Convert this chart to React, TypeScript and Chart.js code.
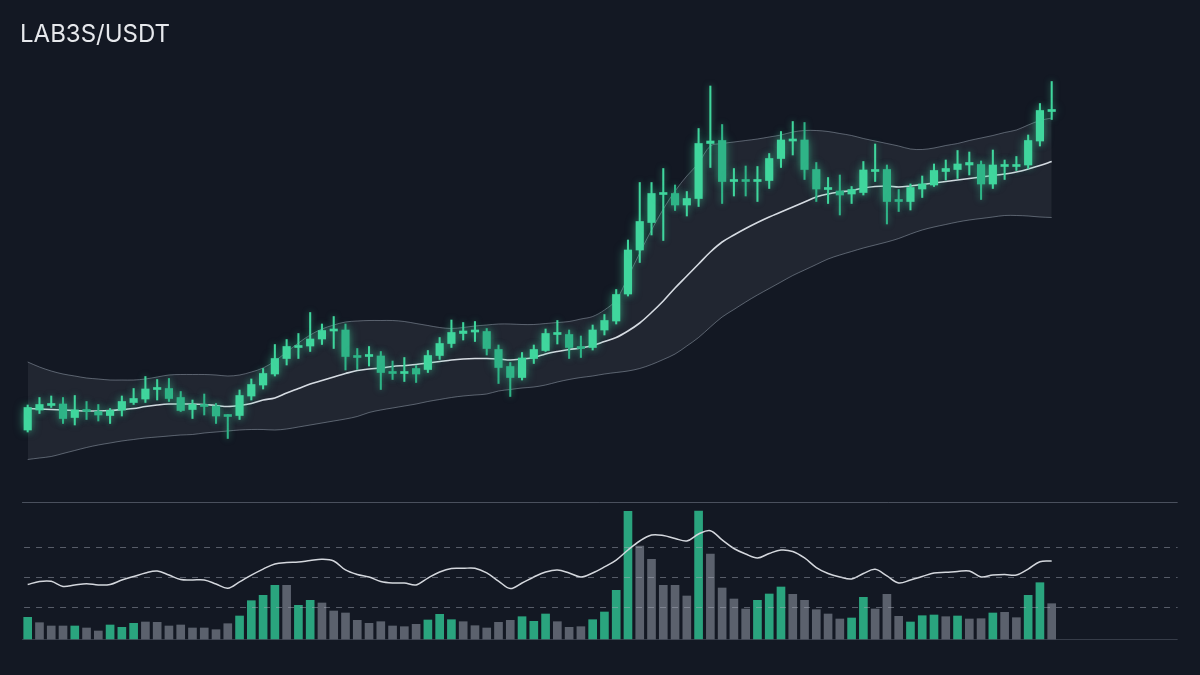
import React, { useEffect, useRef } from "react";
import { Chart, registerables } from "chart.js";

Chart.register(...registerables);

const PAIR = "LAB3S/USDT";

// Candles (price)
const openPrices = [
  1.140, 1.180, 1.189, 1.192, 1.165, 1.181, 1.177, 1.169, 1.180, 1.195,
  1.202, 1.221, 1.223, 1.205, 1.181, 1.191, 1.188, 1.170, 1.169, 1.208,
  1.230, 1.252, 1.283, 1.305, 1.308, 1.322, 1.338, 1.340, 1.288, 1.287,
  1.288, 1.257, 1.253, 1.263, 1.261, 1.289, 1.313, 1.333, 1.336, 1.337,
  1.301, 1.267, 1.245, 1.283, 1.299, 1.331, 1.331, 1.307, 1.305, 1.340,
  1.358, 1.412, 1.500, 1.555, 1.611, 1.613, 1.590, 1.603, 1.713, 1.719,
  1.637, 1.641, 1.637, 1.639, 1.683, 1.718, 1.720, 1.661, 1.621, 1.618,
  1.612, 1.615, 1.657, 1.661, 1.601, 1.597, 1.622, 1.630, 1.657, 1.661,
  1.670, 1.671, 1.632, 1.667, 1.667, 1.670, 1.718, 1.777,
];
const closePrices = [
  1.185, 1.191, 1.193, 1.163, 1.180, 1.177, 1.170, 1.179, 1.197, 1.203,
  1.222, 1.225, 1.203, 1.179, 1.191, 1.187, 1.168, 1.167, 1.209, 1.231,
  1.253, 1.283, 1.307, 1.309, 1.322, 1.339, 1.341, 1.287, 1.285, 1.289,
  1.255, 1.253, 1.257, 1.252, 1.289, 1.313, 1.335, 1.338, 1.339, 1.303,
  1.265, 1.245, 1.284, 1.301, 1.333, 1.335, 1.305, 1.303, 1.340, 1.359,
  1.411, 1.500, 1.557, 1.613, 1.613, 1.590, 1.603, 1.713, 1.718, 1.637,
  1.640, 1.637, 1.641, 1.683, 1.720, 1.722, 1.661, 1.622, 1.625, 1.610,
  1.621, 1.660, 1.661, 1.597, 1.597, 1.625, 1.632, 1.659, 1.663, 1.672,
  1.675, 1.632, 1.670, 1.670, 1.671, 1.719, 1.779, 1.781,
];
const highPrices = [
  1.190, 1.205, 1.208, 1.205, 1.209, 1.197, 1.191, 1.183, 1.208, 1.223,
  1.247, 1.241, 1.243, 1.217, 1.200, 1.212, 1.193, 1.171, 1.220, 1.242,
  1.263, 1.311, 1.321, 1.333, 1.375, 1.352, 1.367, 1.352, 1.303, 1.307,
  1.297, 1.278, 1.285, 1.269, 1.299, 1.325, 1.360, 1.355, 1.357, 1.343,
  1.310, 1.275, 1.295, 1.310, 1.342, 1.359, 1.340, 1.328, 1.350, 1.371,
  1.421, 1.520, 1.635, 1.635, 1.663, 1.630, 1.617, 1.743, 1.828, 1.751,
  1.663, 1.668, 1.667, 1.693, 1.737, 1.757, 1.755, 1.675, 1.645, 1.650,
  1.627, 1.677, 1.712, 1.670, 1.621, 1.632, 1.648, 1.672, 1.680, 1.699,
  1.696, 1.678, 1.700, 1.680, 1.687, 1.730, 1.793, 1.837,
];
const lowPrices = [
  1.136, 1.173, 1.185, 1.153, 1.150, 1.161, 1.158, 1.153, 1.168, 1.191,
  1.195, 1.200, 1.197, 1.177, 1.163, 1.170, 1.153, 1.123, 1.161, 1.200,
  1.222, 1.248, 1.270, 1.283, 1.297, 1.311, 1.303, 1.260, 1.261, 1.268,
  1.221, 1.241, 1.237, 1.235, 1.255, 1.281, 1.305, 1.320, 1.317, 1.290,
  1.233, 1.207, 1.240, 1.273, 1.297, 1.312, 1.283, 1.285, 1.300, 1.330,
  1.352, 1.408, 1.475, 1.530, 1.519, 1.579, 1.568, 1.587, 1.665, 1.593,
  1.608, 1.608, 1.597, 1.623, 1.665, 1.690, 1.641, 1.597, 1.593, 1.570,
  1.593, 1.610, 1.637, 1.552, 1.577, 1.580, 1.605, 1.627, 1.640, 1.643,
  1.650, 1.601, 1.623, 1.641, 1.659, 1.663, 1.708, 1.761,
];

// Bands
const upperBand = [
  1.276, 1.266, 1.258, 1.252, 1.248, 1.244, 1.242, 1.240, 1.240, 1.240,
  1.242, 1.246, 1.250, 1.251, 1.251, 1.251, 1.250, 1.248, 1.250, 1.256,
  1.264, 1.278, 1.296, 1.314, 1.330, 1.342, 1.350, 1.356, 1.358, 1.359,
  1.359, 1.359, 1.357, 1.353, 1.349, 1.345, 1.343, 1.345, 1.348, 1.350,
  1.352, 1.352, 1.351, 1.351, 1.353, 1.355, 1.357, 1.362, 1.367, 1.380,
  1.400, 1.446, 1.494, 1.540, 1.582, 1.618, 1.648, 1.674, 1.708, 1.713,
  1.716, 1.719, 1.722, 1.726, 1.730, 1.736, 1.739, 1.739, 1.737, 1.733,
  1.729, 1.723, 1.718, 1.713, 1.708, 1.702, 1.701, 1.704, 1.709, 1.713,
  1.719, 1.724, 1.729, 1.735, 1.740, 1.750, 1.759, 1.764,
];
const middleBand = [
  1.183, 1.182, 1.181, 1.180, 1.179, 1.178, 1.178, 1.179, 1.181, 1.183,
  1.187, 1.190, 1.192, 1.192, 1.192, 1.191, 1.189, 1.187, 1.189, 1.193,
  1.200, 1.204, 1.214, 1.223, 1.232, 1.239, 1.246, 1.253, 1.259, 1.262,
  1.264, 1.267, 1.269, 1.271, 1.274, 1.277, 1.280, 1.282, 1.283, 1.283,
  1.282, 1.280, 1.282, 1.285, 1.292, 1.297, 1.301, 1.304, 1.309, 1.317,
  1.325, 1.338, 1.354, 1.375, 1.398, 1.424, 1.448, 1.472, 1.496, 1.516,
  1.530, 1.543, 1.555, 1.566, 1.576, 1.586, 1.596, 1.606, 1.612, 1.616,
  1.619, 1.624, 1.627, 1.628, 1.626, 1.628, 1.631, 1.634, 1.637, 1.640,
  1.643, 1.646, 1.649, 1.652, 1.656, 1.662, 1.669, 1.677,
];
const lowerBand = [
  1.081, 1.084, 1.087, 1.093, 1.099, 1.105, 1.110, 1.114, 1.118, 1.121,
  1.124, 1.126, 1.128, 1.130, 1.131, 1.134, 1.136, 1.138, 1.140, 1.141,
  1.141, 1.140, 1.142, 1.146, 1.150, 1.154, 1.158, 1.162, 1.167, 1.175,
  1.180, 1.184, 1.188, 1.192, 1.197, 1.201, 1.205, 1.208, 1.210, 1.212,
  1.218, 1.221, 1.224, 1.226, 1.230, 1.236, 1.241, 1.245, 1.248, 1.252,
  1.255, 1.258, 1.263, 1.271, 1.281, 1.292, 1.308, 1.325, 1.346, 1.366,
  1.381, 1.396, 1.410, 1.423, 1.436, 1.449, 1.460, 1.471, 1.482, 1.490,
  1.497, 1.504, 1.510, 1.516, 1.523, 1.532, 1.540, 1.546, 1.551, 1.556,
  1.560, 1.563, 1.566, 1.569, 1.569, 1.568, 1.566, 1.565,
];

// Volume
const volumes = [
  217, 163, 130, 130, 130, 110, 80, 140, 117, 157,
  170, 167, 130, 140, 110, 110, 93, 153, 230, 383,
  437, 537, 537, 337, 387, 360, 280, 260, 187, 157,
  173, 130, 123, 147, 190, 247, 193, 173, 133, 110,
  167, 187, 223, 177, 250, 173, 117, 123, 193, 270,
  487, 1277, 930, 797, 537, 537, 430, 1280, 850, 510,
  400, 300, 387, 450, 520, 447, 387, 293, 250, 200,
  210, 417, 300, 447, 227, 170, 233, 240, 223, 230,
  200, 203, 260, 267, 213, 437, 563, 353,
];
const volumeUp = [
  1, 0, 0, 0, 1, 0, 0, 1, 1, 1,
  0, 0, 0, 0, 0, 0, 0, 0, 1, 1,
  1, 1, 0, 1, 1, 0, 0, 0, 0, 0,
  0, 0, 0, 0, 1, 1, 1, 0, 0, 0,
  0, 0, 1, 1, 1, 0, 0, 0, 1, 1,
  1, 1, 0, 0, 0, 0, 0, 1, 0, 0,
  0, 0, 1, 1, 1, 0, 0, 0, 0, 0,
  1, 1, 0, 0, 0, 1, 1, 1, 0, 1,
  0, 0, 1, 0, 0, 1, 1, 0,
];

// Oscillator
const rsiValues = [
  44.8, 46.8, 46.9, 43.5, 44.5, 45.3, 44.5, 44.8, 47.8, 50.1,
  52.5, 53.8, 51.1, 48.1, 47.8, 47.8, 45.1, 42.3, 46.5, 51.1,
  55.1, 58.5, 59.5, 59.8, 60.8, 61.6, 60.5, 54.5, 51.5, 49.8,
  46.8, 45.8, 45.8, 44.5, 49.1, 53.1, 55.5, 55.6, 55.6, 52.5,
  47.1, 42.1, 45.8, 49.8, 53.1, 54.5, 52.5, 49.8, 52.5, 56.5,
  61.1, 67.8, 73.8, 77.8, 77.5, 75.5, 73.8, 78.5, 80.7, 74.5,
  68.8, 65.1, 62.5, 65.5, 67.8, 66.8, 62.5, 56.1, 52.1, 49.8,
  48.5, 52.1, 54.9, 50.5, 45.8, 47.8, 50.1, 52.5, 52.9, 53.5,
  53.8, 49.8, 51.1, 51.5, 51.1, 55.1, 60.0, 60.5,
];
const rsiDashedLevels = [70, 50, 30];
const rsiTopLevel = 100;

const BG = "#131823";
const BULL = "#40d69d";
const BEAR = "#2fb487";
const VOL_UP = "#2aa47e";
const VOL_DOWN = "#5b616d";

export default function App() {
  const canvasRef = useRef<HTMLCanvasElement>(null);

  useEffect(() => {
    const canvas = canvasRef.current;
    if (!canvas) return;
    const idx = openPrices.map((_, i) => i);
    const candleColors = idx.map((i) => (closePrices[i] >= openPrices[i] ? BULL : BEAR));
    const pts = (arr: number[]) => arr.map((v, i) => ({ x: i, y: v }));

    const glowPlugin = {
      id: "glow",
      beforeDatasetDraw(chart: any, args: any) {
        const ds = chart.data.datasets[args.index];
        if (ds && ds.glowColor) {
          chart.ctx.save();
          chart.ctx.shadowColor = ds.glowColor;
          chart.ctx.shadowBlur = ds.glowBlur || 8;
        }
      },
      afterDatasetDraw(chart: any, args: any) {
        const ds = chart.data.datasets[args.index];
        if (ds && ds.glowColor) chart.ctx.restore();
      },
    };

    const guidePlugin = {
      id: "guides",
      afterDatasetsDraw(chart: any) {
        const { ctx, scales } = chart;
        const xs = scales.x;
        const x0 = xs.getPixelForValue(-0.48);
        const x1 = xs.getPixelForValue(97.7);
        ctx.save();
        ctx.lineWidth = 1;
        ctx.strokeStyle = "rgba(120,128,142,0.55)";
        const yTop = Math.round(scales.yr.getPixelForValue(rsiTopLevel)) + 0.5;
        ctx.beginPath();
        ctx.moveTo(x0, yTop);
        ctx.lineTo(x1, yTop);
        ctx.stroke();
        const yBase = Math.round(scales.yv.getPixelForValue(0)) + 0.5;
        ctx.strokeStyle = "rgba(120,128,142,0.35)";
        ctx.beginPath();
        ctx.moveTo(x0, yBase);
        ctx.lineTo(x1, yBase);
        ctx.stroke();
        ctx.setLineDash([6, 6]);
        ctx.strokeStyle = "rgba(170,176,188,0.45)";
        rsiDashedLevels.forEach((lv) => {
          const y = Math.round(scales.yr.getPixelForValue(lv)) + 0.5;
          ctx.beginPath();
          ctx.moveTo(x0 + 2, y);
          ctx.lineTo(x1, y);
          ctx.stroke();
        });
        ctx.restore();
      },
    };

    const chart = new Chart(canvas, {
      type: "bar",
      data: {
        datasets: [
          {
            type: "line",
            label: "Upper",
            data: pts(upperBand),
            yAxisID: "y",
            borderColor: "rgba(170,182,196,0.45)",
            borderWidth: 1,
            backgroundColor: "rgba(185,200,212,0.085)",
            fill: "+1",
            pointRadius: 0,
            tension: 0.35,
            order: 20,
          },
          {
            type: "line",
            label: "Lower",
            data: pts(lowerBand),
            yAxisID: "y",
            borderColor: "rgba(170,182,196,0.45)",
            borderWidth: 1,
            fill: false,
            pointRadius: 0,
            tension: 0.35,
            order: 19,
          },
          {
            type: "line",
            label: "Middle",
            data: pts(middleBand),
            yAxisID: "y",
            borderColor: "#d6dbe2",
            borderWidth: 1.6,
            fill: false,
            pointRadius: 0,
            tension: 0.35,
            order: 18,
          },
          {
            type: "bar",
            label: "Volume",
            data: pts(volumes),
            yAxisID: "yv",
            backgroundColor: volumeUp.map((u) => (u ? VOL_UP : VOL_DOWN)),
            barThickness: 8,
            grouped: false,
            order: 17,
          },
          {
            type: "line",
            label: "RSI",
            data: pts(rsiValues),
            yAxisID: "yr",
            borderColor: "#d4d7dd",
            borderWidth: 1.5,
            fill: false,
            pointRadius: 0,
            tension: 0.35,
            order: 16,
          },
          {
            type: "bar",
            label: "Wick",
            data: idx.map((i) => ({ x: i, y: [lowPrices[i], highPrices[i]] })),
            yAxisID: "y",
            backgroundColor: candleColors,
            barThickness: 1.4,
            grouped: false,
            order: 15,
            glowColor: "rgba(64,214,157,0.55)",
            glowBlur: 6,
          } as any,
          {
            type: "bar",
            label: "Body",
            data: idx.map((i) => ({ x: i, y: [openPrices[i], closePrices[i]] })),
            yAxisID: "y",
            backgroundColor: candleColors,
            barThickness: 7.5,
            minBarLength: 2,
            grouped: false,
            order: 14,
            glowColor: "rgba(64,214,157,0.55)",
            glowBlur: 10,
          } as any,
        ],
      },
      options: {
        animation: false,
        responsive: false,
        maintainAspectRatio: false,
        layout: { padding: 0 },
        plugins: {
          legend: { display: false },
          tooltip: { enabled: false },
          title: { display: false },
        },
        scales: {
          x: { type: "linear", min: -2.353, max: 99.6, display: false, offset: false, bounds: "data" },
          y: { type: "linear", min: 0.65, max: 2.0, display: false, bounds: "data", beginAtZero: false },
          yv: { type: "linear", min: -360, max: 6390, display: false, bounds: "data", beginAtZero: false },
          yr: { type: "linear", min: -15.53, max: 434.47, display: false, bounds: "data", beginAtZero: false },
        },
      } as any,
      plugins: [glowPlugin, guidePlugin],
    });
    return () => chart.destroy();
  }, []);

  return (
    <div
      style={{
        position: "fixed",
        left: 0,
        top: 0,
        width: 1200,
        height: 675,
        background: BG,
        overflow: "hidden",
      }}
    >
      <canvas ref={canvasRef} width={1200} height={675} style={{ display: "block" }} />
      <div
        style={{
          position: "absolute",
          left: 20,
          top: 22,
          fontFamily: "Inter, 'Noto Sans', sans-serif",
          fontSize: 24,
          lineHeight: 1,
          fontWeight: 400,
          color: "#e6e8ec",
        }}
      >
        {PAIR}
      </div>
    </div>
  );
}
